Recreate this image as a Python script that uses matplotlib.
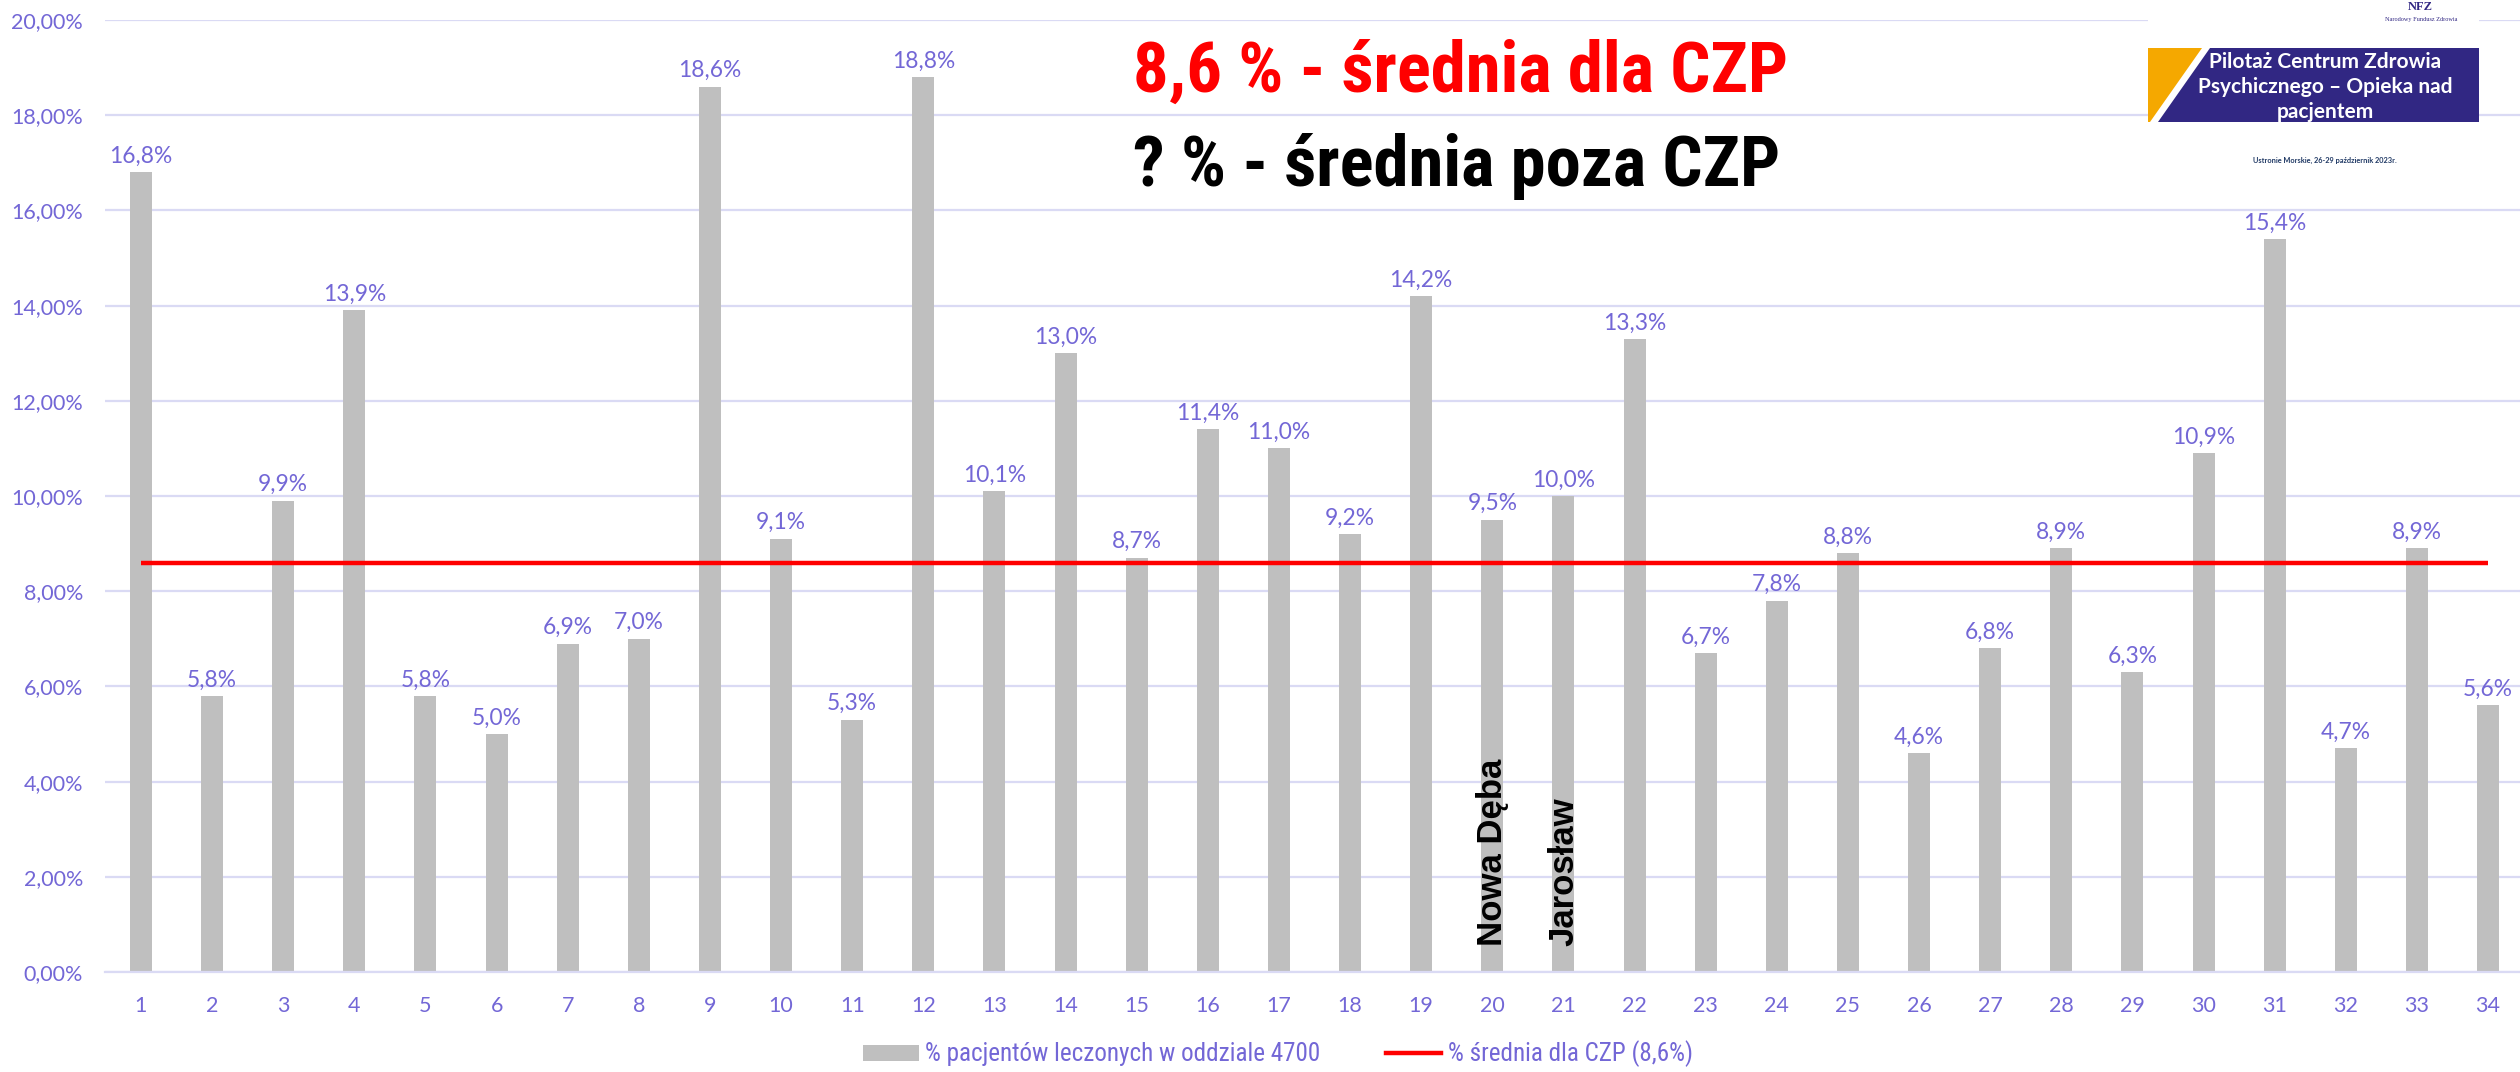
import numpy as np
import matplotlib
matplotlib.use("Agg")
import matplotlib.pyplot as plt
from matplotlib import font_manager as fm
from matplotlib.patches import Rectangle, Polygon, Patch
from matplotlib.lines import Line2D
from matplotlib.ticker import FuncFormatter

# ---------------- data ----------------
categories = ["1", "2", "3", "4", "5", "6", "7", "8", "9", "10", "11", "12",
              "13", "14", "15", "16", "17", "18", "19", "20", "21", "22", "23",
              "24", "25", "26", "27", "28", "29", "30", "31", "32", "33", "34"]
values = [16.8, 5.8, 9.9, 13.9, 5.8, 5.0, 6.9, 7.0, 18.6, 9.1, 5.3, 18.8,
          10.1, 13.0, 8.7, 11.4, 11.0, 9.2, 14.2, 9.5, 10.0, 13.3, 6.7,
          7.8, 8.8, 4.6, 6.8, 8.9, 6.3, 10.9, 15.4, 4.7, 8.9, 5.6]
avg_czp = 8.6
y_ticks = [0, 2, 4, 6, 8, 10, 12, 14, 16, 18, 20]
named_categories = ["20", "21"]
named_labels = ["Nowa Dęba", "Jarosław"]
legend_labels = ["% pacjentów leczonych w oddziale 4700", "% średnia dla CZP (8,6%)"]
title_red = "8,6 % - średnia dla CZP"
title_black = "? % - średnia poza CZP"

# ---------------- fonts ----------------
names = {f.name for f in fm.fontManager.ttflist}
def pick(*cands):
    for c in cands:
        if c in names:
            return c
    return "DejaVu Sans"

f_body = pick("Lato", "Open Sans", "Noto Sans")
f_narrow = pick("Liberation Sans Narrow", "Roboto Condensed", "Lato", "Roboto")
f_bold = pick("Liberation Sans", "Roboto")
f_serif = pick("Liberation Serif", "DejaVu Serif")
plt.rcParams["font.family"] = [f_body, "DejaVu Sans"]

W, H = 2520, 1072
fig = plt.figure(figsize=(W / 100, H / 100), dpi=100)
renderer = fig.canvas.get_renderer()

def size_for(text, target_px, base=20, **kw):
    t = fig.text(0, 0, text, fontsize=base, **kw)
    w = t.get_window_extent(renderer).width
    t.remove()
    return base * target_px / w

label_color = "#7367D6"
grid_color = "#DADAF4"

tick_fs = size_for("20,00%", 72, family=[f_body, "DejaVu Sans"])
lab_fs = size_for("16,8%", 63, family=[f_body, "DejaVu Sans"])

# ---------------- main axes ----------------
ax = fig.add_axes([105.4 / W, 100 / H, 2418.2 / W, 952 / H])
x = np.arange(1, len(categories) + 1)
ax.bar(x, values, width=0.31, color="#BFBFBF", zorder=2)
ax.plot(x, [avg_czp] * len(x), color="#FF0000", lw=3.2, zorder=3,
        solid_capstyle="butt")
ax.set_xlim(0.5, len(categories) + 0.5)
ax.set_ylim(0, 20)
ax.set_yticks(y_ticks)
ax.yaxis.set_major_formatter(FuncFormatter(lambda v, p: f"{v:.2f}%".replace(".", ",")))
ax.set_xticks(x)
ax.set_xticklabels(categories)
ax.grid(axis="y", color=grid_color, lw=1.6, zorder=0)
ax.set_axisbelow(True)
for s in ["top", "right", "left"]:
    ax.spines[s].set_visible(False)
ax.spines["bottom"].set_color(grid_color)
ax.spines["bottom"].set_linewidth(1.6)
ax.tick_params(axis="both", length=0, colors=label_color, labelsize=tick_fs)
ax.tick_params(axis="y", pad=16)
ax.tick_params(axis="x", pad=17)

for xi, v in zip(x, values):
    ax.annotate(f"{v:.1f}%".replace(".", ","), (xi, v), xytext=(0, 4),
                textcoords="offset points", ha="center", va="bottom",
                color=label_color, fontsize=lab_fs)

for cat, lab in zip(named_categories, named_labels):
    xi = categories.index(cat) + 1
    ax.text(xi, 0.55, lab, rotation=90, ha="center", va="bottom",
            fontsize=25, fontweight="bold", color="black",
            family=[f_bold, "DejaVu Sans"], zorder=4)

# ---------------- titles ----------------
tfs = size_for(title_red, 655, fontweight="bold", family=[f_narrow, "DejaVu Sans"])
fig.text(1133 / W, 1 - 92 / H, title_red, ha="left", va="baseline",
         fontsize=tfs, fontweight="bold", color="#FF0000",
         family=[f_narrow, "DejaVu Sans"])
fig.text(1133 / W, 1 - 186 / H, title_black, ha="left", va="baseline",
         fontsize=tfs, fontweight="bold", color="black",
         family=[f_narrow, "DejaVu Sans"])

# ---------------- legend ----------------
leg_fs = size_for(legend_labels[0], 396, family=[f_narrow, "DejaVu Sans"])
handles = [Patch(facecolor="#BFBFBF", edgecolor="none"),
           Line2D([], [], color="#FF0000", lw=3.2)]
fig.legend(handles, legend_labels, loc="center",
           bbox_to_anchor=(1278 / W, 1 - 1054 / H), ncol=2, frameon=False,
           prop={"family": [f_narrow, "DejaVu Sans"], "size": leg_fs},
           labelcolor=label_color, handlelength=2.2, handletextpad=0.25,
           columnspacing=2.6, handleheight=0.6)

# ---------------- logo overlay ----------------
ov = fig.add_axes([0, 0, 1, 1], zorder=10)
ov.set_xlim(0, W)
ov.set_ylim(H, 0)
ov.axis("off")
ov.patch.set_alpha(0)
ov.add_patch(Rectangle((2148, 0), 331, 185, facecolor="white", edgecolor="none"))
ov.add_patch(Polygon([(2148, 48), (2202, 48), (2150, 122), (2148, 122)],
                     closed=True, facecolor="#F5A800", edgecolor="none"))
ov.add_patch(Polygon([(2210, 48), (2479, 48), (2479, 122), (2158, 122)],
                     closed=True, facecolor="#312783", edgecolor="none"))
lfs = size_for("Psychicznego – Opieka nad", 254, fontweight="bold",
               family=[f_body, "DejaVu Sans"])
for yy, line in zip([62, 87, 112], ["Pilotaż Centrum Zdrowia",
                                     "Psychicznego – Opieka nad", "pacjentem"]):
    ov.text(2325, yy, line, ha="center", va="center", color="white",
            fontsize=lfs, fontweight="bold")
ov.text(2420, 1, "NFZ", ha="center", va="top", fontsize=9,
        fontweight="bold", color="#312783", family=f_serif)
ov.text(2421, 20, "Narodowy Fundusz Zdrowia", ha="center", va="center",
        fontsize=4.5, color="#312783", family=f_serif)
ov.text(2325, 160, "Ustronie Morskie, 26-29 październik 2023r.", ha="center",
        va="center", fontsize=5.3, fontweight="bold", color="#1F3864")

fig.savefig("out.png", dpi=100, facecolor="white")
